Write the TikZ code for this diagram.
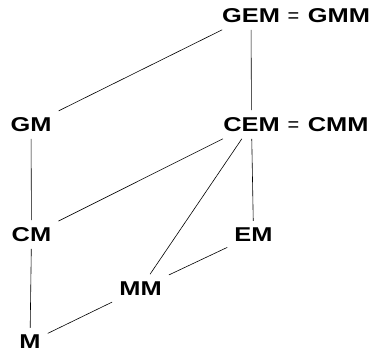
\documentclass[tikz,border=0pt]{standalone}
\usepackage{fontspec}
\setmainfont{Liberation Sans}
\newcommand\stretchx[1]{\scalebox{1.27}[1]{#1}}
\begin{document}
\begin{tikzpicture}[x=1pt,y=-1pt,
  lbl/.style={font=\fontsize{20}{24}\selectfont\bfseries, inner sep=7pt},
  eqlbl/.style={font=\fontsize{20}{24}\selectfont, inner sep=0pt, anchor=base west},
  edge/.style={line width=0.6pt, black}]
\useasboundingbox (0,0) rectangle (371,354);
% lattice elements
\node[lbl] (gem) at (251,15.5) {\stretchx{GEM}};
\node[eqlbl] (gmm) at (287.5,22.5) {=\kern8.5pt\bfseries\stretchx{GMM}};
\node[lbl] (gm) at (31,124.5) {\stretchx{GM}};
\node[lbl] (cem) at (251.5,124.5) {\stretchx{CEM}};
\node[eqlbl] (cmm) at (287.5,131.5) {=\kern8.5pt\bfseries\stretchx{CMM}};
\node[lbl] (cm) at (31.5,234.5) {\stretchx{CM}};
\node[lbl] (em) at (253.5,235) {\stretchx{EM}};
\node[lbl] (mm) at (140.5,288.3) {\stretchx{MM}};
\node[lbl] (m) at (30,342) {\stretchx{M}};
% order relations
\draw[edge] (gem) -- (gm);
\draw[edge] (gem) -- (cem);
\draw[edge] (gm) -- (cm);
\draw[edge] (cem) -- (cm);
\draw[edge] (cem) -- (mm);
\draw[edge] (cem) -- (em);
\draw[edge] (em) -- (mm);
\draw[edge] (cm) -- (m);
\draw[edge] (mm) -- (m);
\end{tikzpicture}
\end{document}
